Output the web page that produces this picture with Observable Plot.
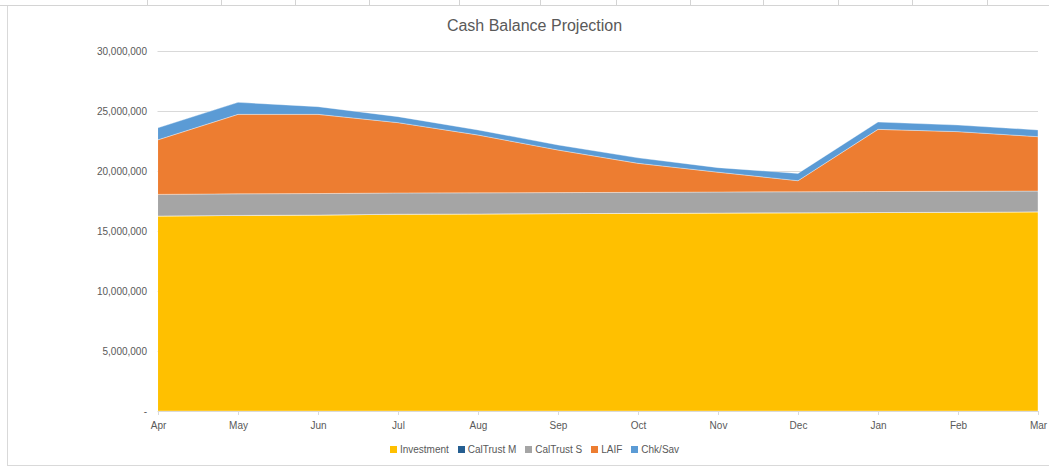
<!DOCTYPE html>
<html>
<head>
<meta charset="utf-8">
<script src="https://cdn.jsdelivr.net/npm/d3@7"></script>
<script src="https://cdn.jsdelivr.net/npm/@observablehq/plot@0.6"></script>
<style>
  body { margin: 0; background: #fff; font-family: "Liberation Sans", Arial, sans-serif; }
  #sheet { position: relative; width: 1049px; height: 467px; overflow: hidden; background: #fff; }
  #strip { position: absolute; left: 0; top: 0; width: 1049px; height: 5px; border-bottom: 1px solid #d4d4d4; }
  .col { position: absolute; top: 0; width: 1px; height: 5px; background: #d4d4d4; }
  #frame { position: absolute; left: 7px; top: 6px; right: 0; height: 459px; border-left: 1px solid #d9d9d9; border-bottom: 1px solid #d9d9d9; }
  #title { position: absolute; left: 20px; right: 0; top: 17px; text-align: center; font-size: 16px; color: #595959; }
  #chart { position: absolute; left: 0; top: 40px; }
  #legend { position: absolute; left: 20px; right: 0; top: 444px; display: flex; justify-content: center; gap: 9px; font-size: 10px; color: #595959; }
  .item { display: flex; align-items: center; gap: 3px; }
  .sw { width: 7px; height: 7px; display: inline-block; }
</style>
</head>
<body>
<div id="sheet">
  <div id="strip">
    <div class="col" style="left:147px"></div><div class="col" style="left:221px"></div>
    <div class="col" style="left:295px"></div><div class="col" style="left:369px"></div>
    <div class="col" style="left:459px"></div><div class="col" style="left:540px"></div>
    <div class="col" style="left:616px"></div><div class="col" style="left:690px"></div>
    <div class="col" style="left:763px"></div><div class="col" style="left:838px"></div>
    <div class="col" style="left:912px"></div><div class="col" style="left:987px"></div>
  </div>
  <div id="frame"></div>
  <div id="title">Cash Balance Projection</div>
  <div id="chart"></div>
  <div id="legend"></div>
</div>
<script>
const months = ["Apr","May","Jun","Jul","Aug","Sep","Oct","Nov","Dec","Jan","Feb","Mar"];
const seriesNames = ["Investment","CalTrust M","CalTrust S","LAIF","Chk/Sav"];
const seriesColors = ["#FFC000","#255E91","#A5A5A5","#ED7D31","#5B9BD5"];

const investment = [16250000,16300000,16330000,16400000,16420000,16450000,16470000,16500000,16520000,16540000,16560000,16600000];
const calTrustM  = [0,0,0,0,0,0,0,0,0,0,0,0];
const calTrustS  = [1800000,1800000,1790000,1770000,1760000,1750000,1750000,1750000,1750000,1750000,1750000,1730000];
const laif       = [4550000,6620000,6600000,5860000,4820000,3550000,2420000,1650000,920000,5180000,4970000,4530000];
const chkSav     = [1000000,1000000,640000,500000,420000,420000,460000,380000,610000,610000,550000,560000];

const yTicks = [0,5000000,10000000,15000000,20000000,25000000,30000000];

const seriesValues = [investment, calTrustM, calTrustS, laif, chkSav];
const data = [];
seriesNames.forEach((s, i) => {
  months.forEach((m, j) => data.push({series: s, month: m, value: seriesValues[i][j]}));
});

const fmt = d3.format(",");
const chart = Plot.plot({
  width: 1049,
  height: 400,
  marginLeft: 157.5,
  marginRight: 11,
  marginTop: 11,
  marginBottom: 29,
  style: {fontFamily: "'Liberation Sans', Arial, sans-serif", fontSize: "10px", color: "#595959", background: "transparent"},
  x: {type: "point", domain: months, padding: 0, label: null},
  y: {domain: [0, 30000000], label: null},
  color: {domain: seriesNames, range: seriesColors},
  marks: [
    Plot.ruleY(yTicks.filter(d => d > 0), {stroke: "#d9d9d9", strokeWidth: 1}),
    Plot.areaY(data, {x: "month", y: "value", fill: "series", order: seriesNames, stroke: "white", strokeWidth: 0.5, strokeOpacity: 0.7}),
    Plot.ruleY([0], {stroke: "#d9d9d9", strokeWidth: 1}),
    Plot.axisY({ticks: yTicks, tickSize: 0, tickPadding: 11, tickFormat: d => d === 0 ? "-" : fmt(d), fill: "#595959", label: null}),
    Plot.axisX({tickSize: 4, tickPadding: 6, stroke: "#d9d9d9", fill: "#595959", label: null})
  ]
});
document.getElementById("chart").appendChild(chart);

const legend = document.getElementById("legend");
seriesNames.forEach((s, i) => {
  const item = document.createElement("div");
  item.className = "item";
  const sw = document.createElement("span");
  sw.className = "sw";
  sw.style.background = seriesColors[i];
  const t = document.createElement("span");
  t.textContent = s;
  item.appendChild(sw);
  item.appendChild(t);
  legend.appendChild(item);
});
</script>
</body>
</html>
